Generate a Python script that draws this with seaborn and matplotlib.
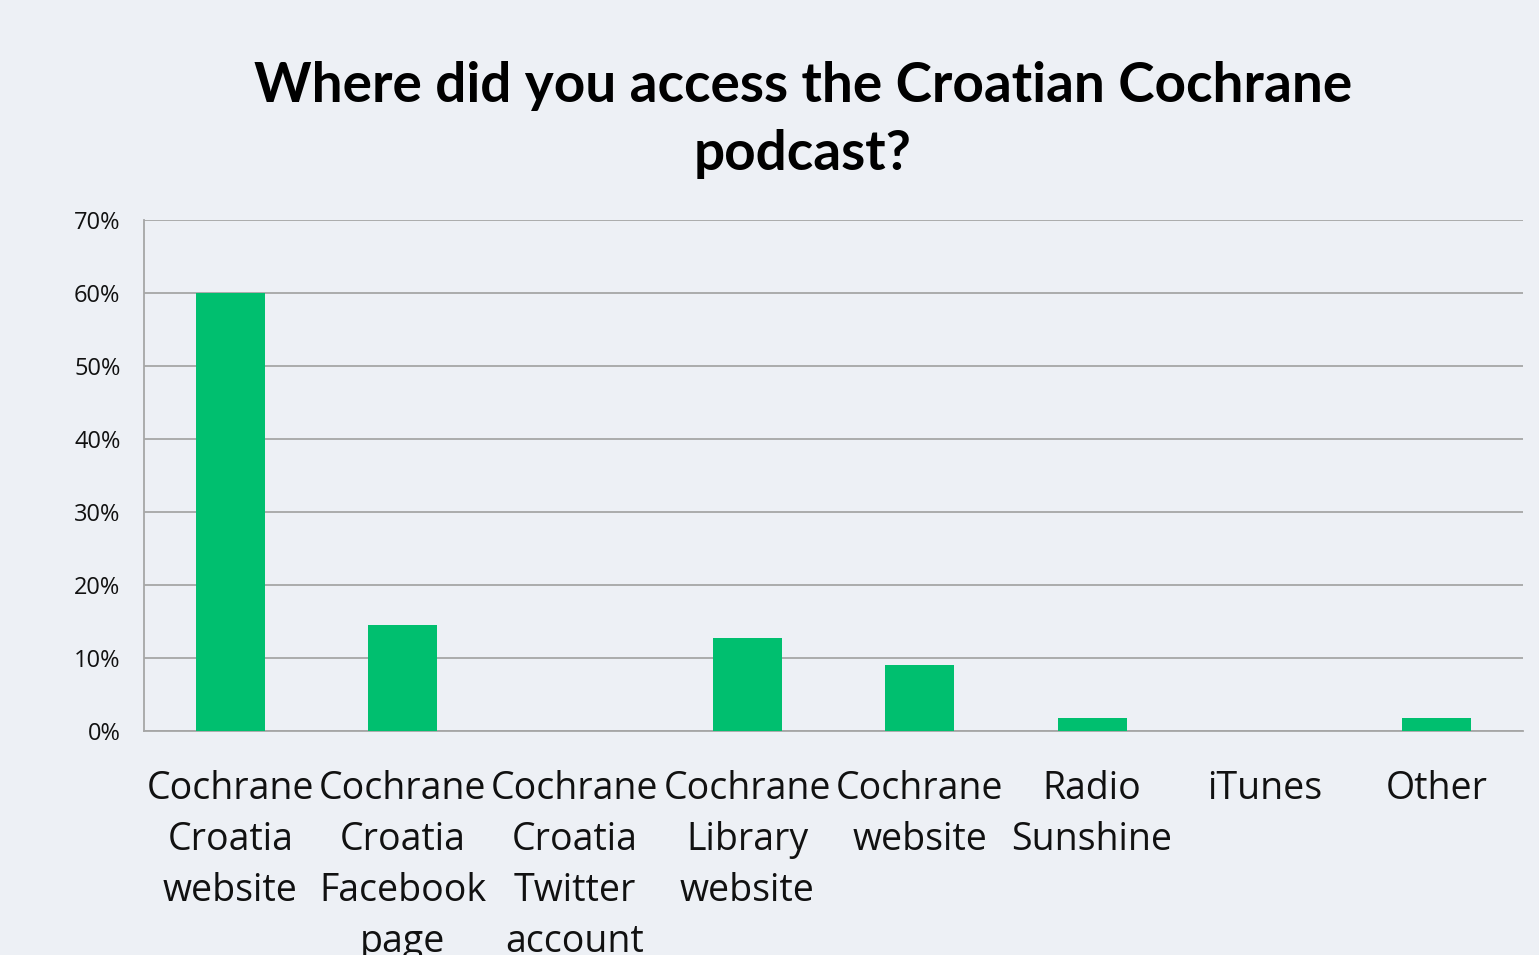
"""
plot.py – Where did you access the Croatian Cochrane podcast?
"""

import numpy as np
import pandas as pd
import matplotlib
matplotlib.use("Agg")
import matplotlib.pyplot as plt
from matplotlib.ticker import FuncFormatter, FixedLocator
import seaborn as sns


# Datos
categories = [
    "Cochrane\nCroatia\nwebsite",
    "Cochrane\nCroatia\nFacebook\npage",
    "Cochrane\nCroatia\nTwitter\naccount",
    "Cochrane\nLibrary\nwebsite",
    "Cochrane\nwebsite",
    "Radio\nSunshine",
    "iTunes",
    "Other",
]
shares = [60.0, 14.5, 0.0, 12.7, 9.1, 1.8, 0.0, 1.8]
y_ticks = [0, 10, 20, 30, 40, 50, 60, 70]

TITLE = "Where did you access the Croatian Cochrane\npodcast?"
BG = "#EDF0F5"
BAR = "#00BF6F"
GRID = "#A6A6A6"


def run():
    sns.set_style("white")
    plt.rcParams["font.family"] = ["Open Sans", "DejaVu Sans"]

    df = pd.DataFrame({"category": categories, "share": shares})

    fig = plt.figure(figsize=(15.39, 9.55), dpi=100, facecolor=BG)
    ax = fig.add_axes([144 / 1539, 1 - 731 / 955, (1523 - 144) / 1539, (731 - 220) / 955])
    ax.set_facecolor(BG)

    sns.barplot(data=df, x="category", y="share", color=BAR, width=0.4,
                saturation=1, linewidth=0, ax=ax, zorder=3)

    ax.set_xlim(-0.5, len(categories) - 0.5)
    ax.set_ylim(0, 70)
    ax.set_yticks(y_ticks)
    ax.yaxis.set_major_formatter(FuncFormatter(lambda v, _: f"{v:.0f}%"))
    ax.grid(axis="y", color=GRID, linewidth=1.3, zorder=0)
    ax.set_axisbelow(True)

    # ── Ejes estilo Excel ──────────────────────────────────────
    for side in ("top", "right"):
        ax.spines[side].set_visible(False)
    ax.spines["left"].set_color(GRID)
    ax.spines["left"].set_linewidth(1.3)
    ax.spines["bottom"].set_color(GRID)
    ax.spines["bottom"].set_linewidth(1.3)

    ax.tick_params(axis="y", length=8, width=1.3, color=GRID, pad=9,
                   labelsize=17, labelcolor="#111111")
    ax.tick_params(axis="x", which="major", length=0, pad=28,
                   labelsize=27, labelcolor="#111111")
    ax.xaxis.set_minor_locator(FixedLocator(np.arange(-0.5, len(categories), 1.0)))
    ax.tick_params(axis="x", which="minor", length=12, width=1.3, color=GRID)
    for lbl in ax.get_xticklabels():
        lbl.set_linespacing(1.45)
        lbl.set_verticalalignment("top")

    ax.set_xlabel("")
    ax.set_ylabel("")

    fig.text(803 / 1539, 1 - 120 / 955, TITLE, ha="center", va="center",
             fontsize=39.5, fontweight="bold", family=["Lato", "DejaVu Sans"],
             linespacing=1.42, color="#000000")

    fig.savefig("out.png", dpi=100, facecolor=BG)
    plt.close(fig)


if __name__ == "__main__":
    run()
